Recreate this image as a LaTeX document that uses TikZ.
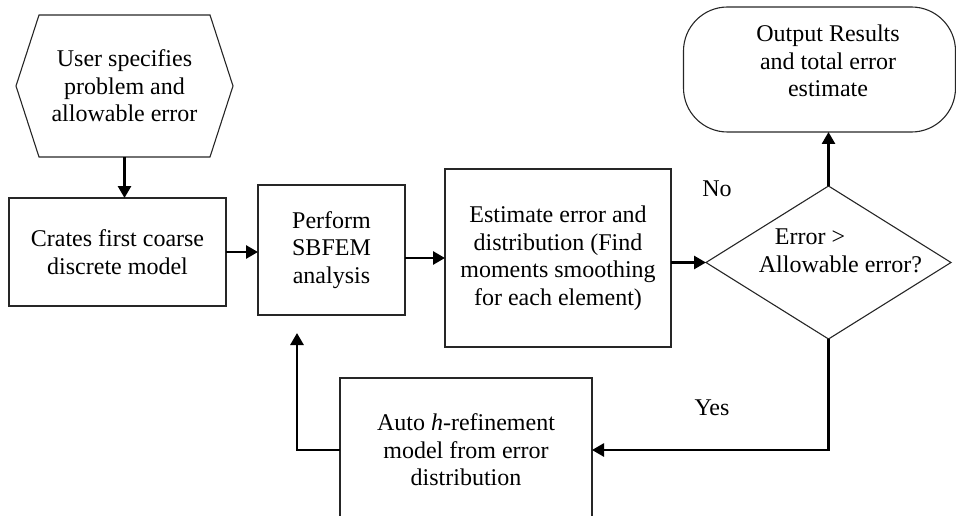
\documentclass[tikz,border=0pt]{standalone}
\usepackage{fontspec}
\setmainfont{Liberation Serif}
\usetikzlibrary{shapes.geometric,arrows.meta}
\begin{document}
\begin{tikzpicture}[x=1pt,y=-1pt,
  every node/.style={font=\fontsize{24}{27.5}\selectfont, align=center, inner sep=0pt, outer sep=0pt},
  boxnode/.style={draw=black!85, line width=1.1pt, rectangle},
  arr/.style={line width=2.7pt, -{Triangle[length=12pt,width=13pt]}}]
\useasboundingbox (0,0) rectangle (956,516);
\clip (0,0) rectangle (956,516);
% nodes
\node (user) [minimum width=217pt, minimum height=142pt] at (124.5,86) {User specifies\\problem and\\allowable error};
\draw[draw=black!85, line width=1.1pt] ([xshift=23pt]user.north west) -- ([xshift=-23pt]user.north east) -- (user.east)
  -- ([xshift=-23pt]user.south east) -- ([xshift=23pt]user.south west) -- (user.west) -- cycle;
\node (crates) [boxnode, minimum width=217pt, minimum height=108pt] at (117.5,252) {Crates first coarse\\discrete model};
\node (sbfem) [boxnode, minimum width=147pt, minimum height=130pt] at (331.5,250) {Perform\\SBFEM\\analysis};
\node (est) [boxnode, minimum width=226pt, minimum height=178pt] at (558,258) {Estimate error and\\distribution (Find\\moments smoothing\\for each element)};
\node (dec) [draw=black!85, line width=1.1pt, diamond, minimum width=245pt, minimum height=153pt] at (828.5,262.5) {};
\node (dectext) [align=left] at (840.5,251) {\hspace{16pt}Error >\\Allowable error?};
\node (out) [draw=black!85, line width=1.1pt, rectangle, rounded corners=44pt, minimum width=272pt, minimum height=125pt] at (819.5,69.5) {};
\node (outtext) at (828,61) {Output Results\\and total error\\estimate};
\node (auto) [boxnode, minimum width=252pt, minimum height=144pt] at (466,450) {Auto \textit{h}-refinement\\model from error\\distribution};
\node (no) at (717,189) {No};
\node (yes) at (712,408) {Yes};
\coordinate (fb) at (297,333);
% connectors
\draw[arr] (user.south) -- (user.south |- crates.north);
\draw[arr] (crates.east) -- (crates.east -| sbfem.west);
\draw[arr] (est.west -| sbfem.east) -- (est.west);
\draw[arr] (dec.west -| est.east) -- (dec.west);
\draw[arr] (dec.north) -- (dec.north |- out.south);
\draw[arr] (dec.south) |- (auto.east);
\draw[arr] (auto.west) -| (fb);
\end{tikzpicture}
\end{document}
